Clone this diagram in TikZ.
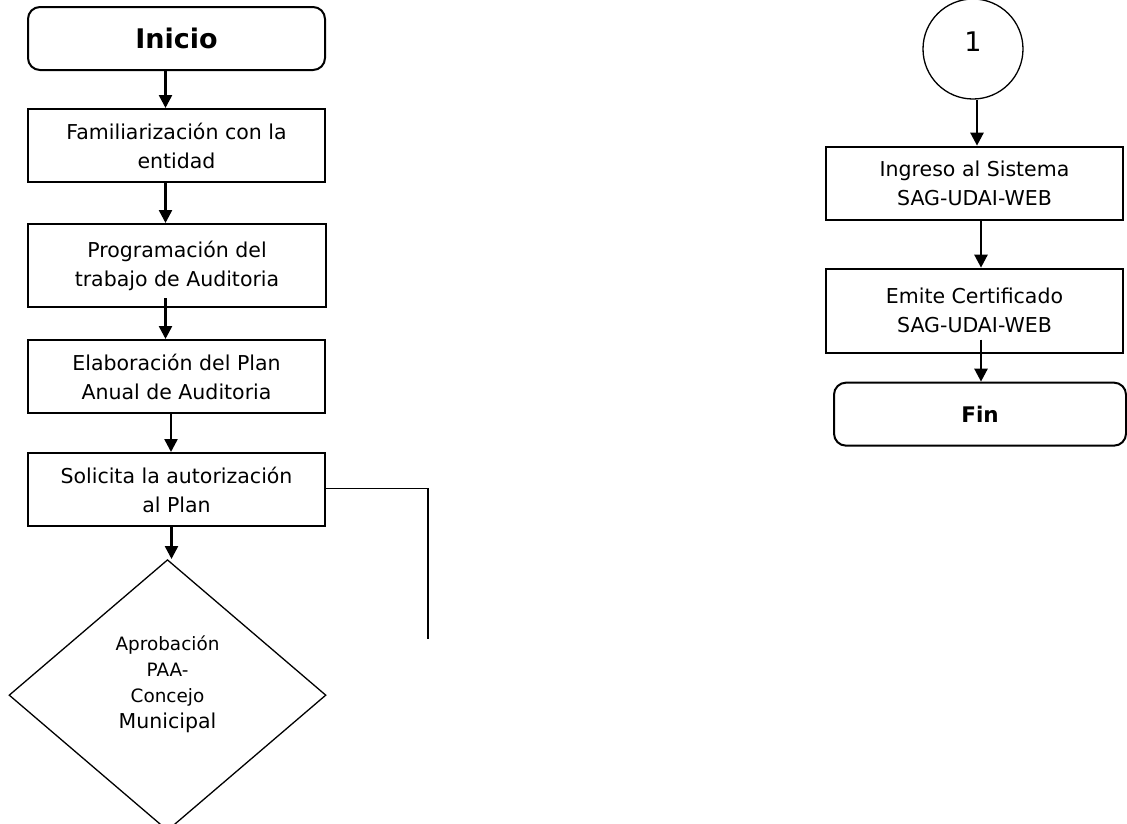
\documentclass[tikz,border=0pt]{standalone}
\usepackage{fontspec}
\setmainfont{DejaVu Sans}
\usetikzlibrary{positioning,shapes.geometric,arrows.meta}

\tikzset{
  paso/.style={draw, line width=2pt, minimum width=297pt, minimum height=73pt,
    inner sep=0pt, align=center, font=\fontsize{20.5}{29}\selectfont},
  terminal/.style={paso, rounded corners=12pt, minimum height=63pt},
  flecha/.style={-{Triangle[length=13pt,width=13pt]}, line width=2.5pt},
}

\begin{document}
\begin{tikzpicture}[x=1pt, y=-1pt]
  \useasboundingbox (0,0) rectangle (1127,823);

  % columna izquierda
  \node[terminal, font=\fontsize{27}{32}\selectfont\bfseries] (ini) at (176.5,38.5) {Inicio};
  \node[paso, below=37pt of ini] (fam) {Familiarización con la\\entidad};
  \node[paso, minimum height=83pt, minimum width=298pt, below=40pt of fam, xshift=0.5pt] (prog) {Programación del\\trabajo de Auditoria};
  \node[paso, below=31pt of prog, xshift=-0.5pt] (elab) {Elaboración del Plan\\Anual de Auditoria};
  \node[paso, below=38pt of elab] (sol) {Solicita la autorización\\al Plan};
  \node[draw, diamond, line width=1.3pt, minimum width=317pt, minimum height=271pt,
    inner sep=0pt, align=center, font=\fontsize{18.4}{26}\selectfont, text depth=27pt,
    below=32pt of sol, xshift=-9pt] (aprob)
    {Aprobación\\PAA-\\Concejo\\{\fontsize{20.5}{27}\selectfont Municipal}};
  \coordinate (retorno) at (428,639);

  % columna derecha
  \node[draw, circle, line width=1.3pt, minimum size=100pt, inner sep=0pt,
    font=\fontsize{27}{30}\selectfont] (uno) at (973,49) {\raisebox{14pt}{1}};
  \node[paso, below=46pt of uno, xshift=1.5pt] (ing) {Ingreso al Sistema\\SAG-UDAI-WEB};
  \node[paso, minimum height=84pt, below=47pt of ing] (emi) {Emite Certificado\\SAG-UDAI-WEB};
  \node[terminal, minimum width=292pt, font=\fontsize{21.5}{26}\selectfont\bfseries,
    below=28pt of emi, xshift=5.5pt] (fin) {Fin};

  \draw[flecha] ([xshift=-11pt]ini.south) -- ([xshift=-11pt]fam.north);
  \draw[flecha] ([xshift=-11pt]fam.south) -- ([xshift=-11.5pt]prog.north);
  \draw[flecha] ([xshift=-11.5pt,yshift=10pt]prog.south) -- ([xshift=-11pt]elab.north);
  \draw[flecha] ([xshift=-5.5pt]elab.south) -- ([xshift=-5.5pt]sol.north);
  \draw[flecha] ([xshift=-5pt]sol.south) -- ([xshift=-5pt]sol.south |- aprob.north);
  \draw[line width=1.3pt] ([yshift=1pt]sol.east) -| (retorno);

  \draw[flecha] ([xshift=4pt]uno.south) -- ([xshift=2.5pt]ing.north);
  \draw[flecha] ([xshift=6.5pt]ing.south) -- ([xshift=6.5pt]emi.north);
  \draw[flecha] ([xshift=6.5pt,yshift=14pt]emi.south) -- ([xshift=1pt]fin.north);
\end{tikzpicture}
\end{document}
